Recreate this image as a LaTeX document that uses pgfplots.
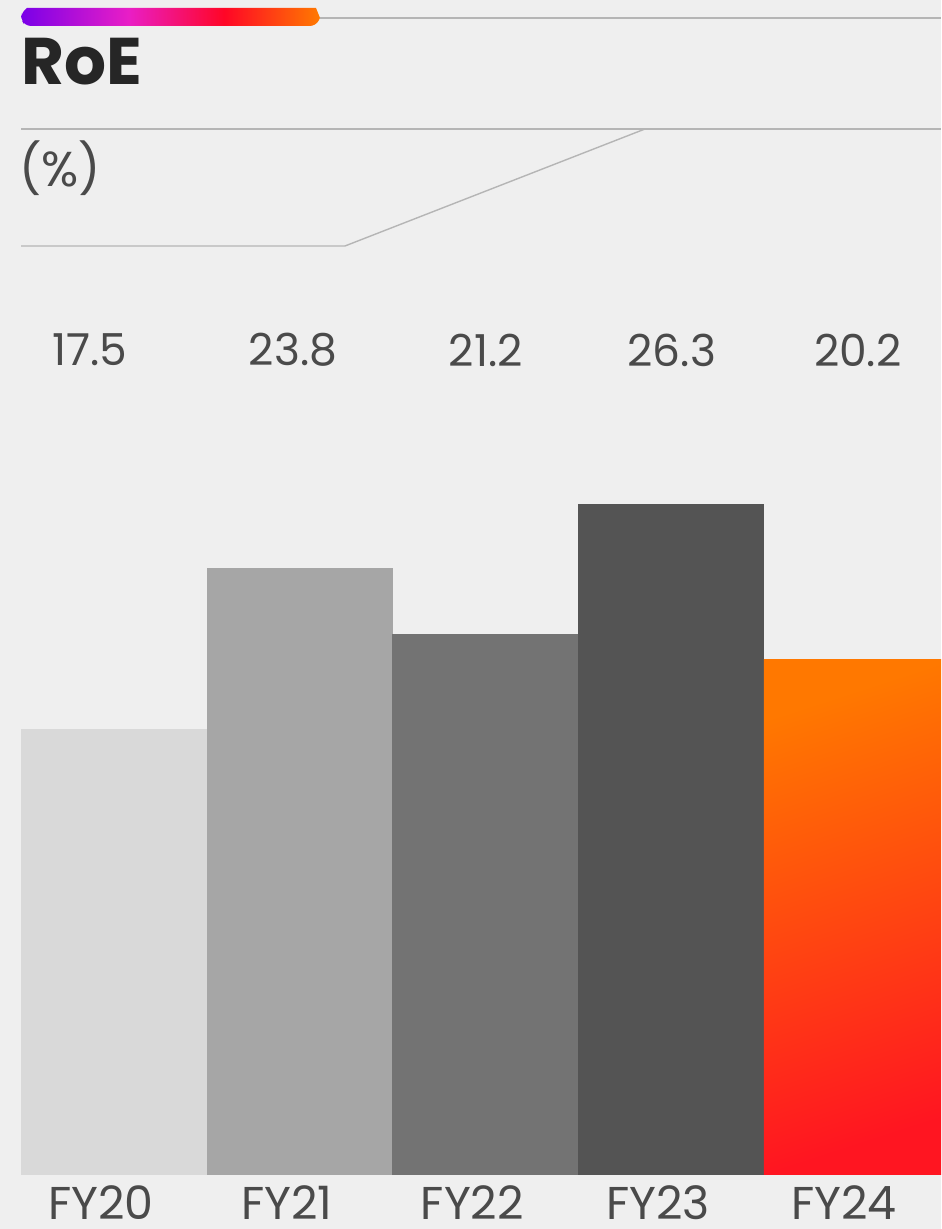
\documentclass[border=0pt]{standalone}
\usepackage{pgfplots}
\pgfplotsset{compat=1.18}
\usepackage{fontspec}
\setmainfont{Poppins}
\definecolor{bg}{HTML}{EFEFEF}
\definecolor{txt}{HTML}{4A4A4A}
\definecolor{ttl}{HTML}{262626}
\definecolor{ln}{HTML}{B5B5B5}
\definecolor{b1}{HTML}{D9D9D9}
\definecolor{b2}{HTML}{A6A6A6}
\definecolor{b3}{HTML}{737373}
\definecolor{b4}{HTML}{545454}
\definecolor{orA}{HTML}{FF7800}
\definecolor{rdA}{HTML}{FF1521}
\definecolor{g1}{HTML}{7A00E8}
\definecolor{g2}{HTML}{E91EC6}
\definecolor{g3}{HTML}{FF0626}
\definecolor{g4}{HTML}{FF7A00}
\pgfdeclarehorizontalshading{brand}{100bp}{color(0bp)=(g1); color(25bp)=(g1); color(43bp)=(g2); color(59bp)=(g3); color(75bp)=(g4); color(100bp)=(g4)}
\begin{document}
\begin{tikzpicture}[x=0.5pt,y=0.5pt]
\useasboundingbox (0,0) rectangle (941,1229);
\fill[bg] (0,0) rectangle (941,1229);
% top brand bar and line
\draw[ln,line width=0.7pt] (320,1211) -- (941,1211);
\shade[shading=brand] (21,1216) -- (27,1221) -- (316,1221) -- (320,1211) [rounded corners=3pt]-- (316,1203) -- (25,1203) -- (21,1210) -- cycle;
\node[anchor=base west,inner sep=0pt,text=ttl,font=\bfseries\fontsize{33}{33}\selectfont] at (21,1144) {RoE};
% lines
\draw[ln,line width=0.7pt] (21,1100) -- (941,1100);
\draw[ln,line width=0.7pt] (21,983) -- (345,983) -- (645,1100);
\node[anchor=base west,inner sep=0pt,text=txt,font=\fontsize{24.5}{24.5}\selectfont] at (19,1042) {(\%)};
\begin{axis}[
  at={(10.5pt,27pt)}, anchor=south west,
  scale only axis, width=460pt, height=587.5pt,
  xmin=-0.5, xmax=4.453, ymin=0, ymax=46.08,
  axis line style={draw=none}, major tick length=0pt,
  ytick=\empty,
  xtick={0,1,2,3,4},
  xticklabels={FY20,FY21,FY22,FY23,FY24},
  xticklabel style={text=txt,font=\fontsize{23}{23}\selectfont,inner sep=0pt,anchor=north,yshift=-5pt,xshift=-6.5pt},
  ybar, bar width=93pt, bar shift=0pt,
  clip=true,
]
\addplot[draw=none,fill=b1] coordinates {(0,17.5)};
\addplot[draw=none,fill=b2] coordinates {(1,23.8)};
\addplot[draw=none,fill=b3] coordinates {(2,21.2)};
\addplot[draw=none,fill=b4] coordinates {(3,26.3)};
\addplot[draw=none,top color=orA,bottom color=rdA,shading angle=18] coordinates {(4,20.2)};
\node[text=txt,font=\fontsize{22}{22}\selectfont] at (axis cs:-0.129,32.35) {17.5};
\node[text=txt,font=\fontsize{22}{22}\selectfont] at (axis cs:0.964,32.35) {23.8};
\node[text=txt,font=\fontsize{22}{22}\selectfont] at (axis cs:2.003,32.35) {21.2};
\node[text=txt,font=\fontsize{22}{22}\selectfont] at (axis cs:3.004,32.35) {26.3};
\node[text=txt,font=\fontsize{22}{22}\selectfont] at (axis cs:4.005,32.35) {20.2};
\end{axis}
\end{tikzpicture}
\end{document}
